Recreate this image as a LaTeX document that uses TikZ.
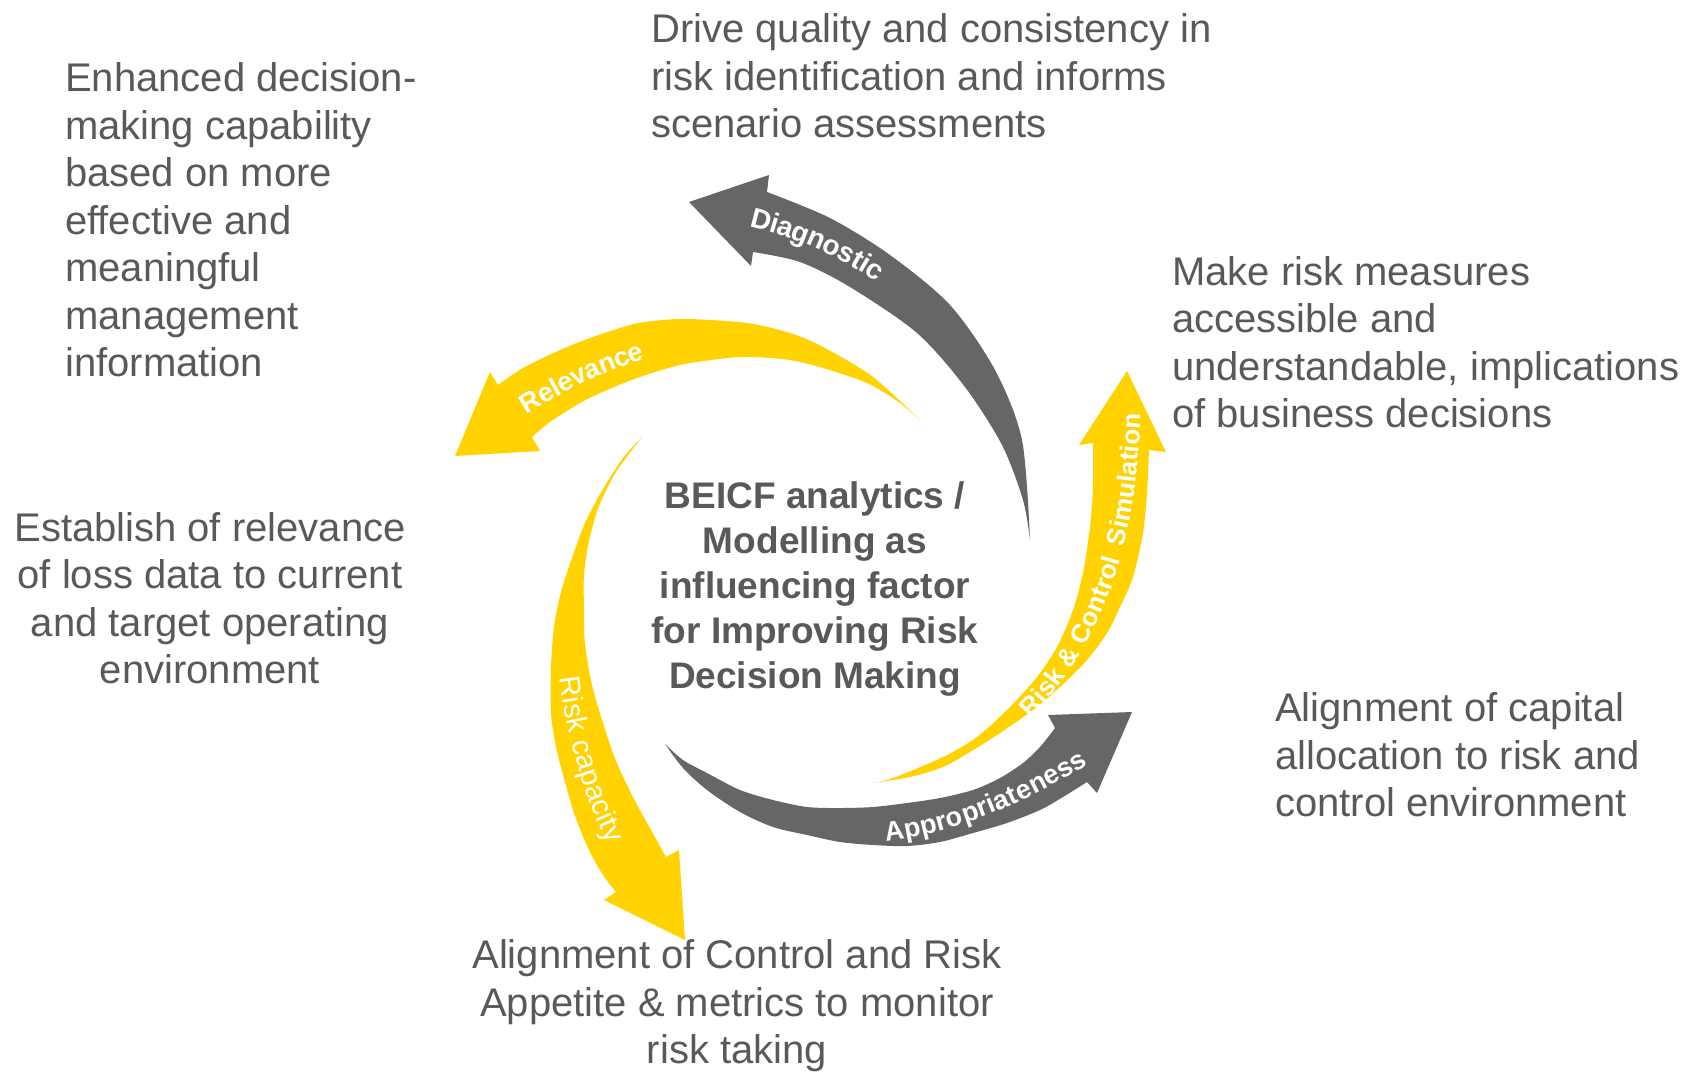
\documentclass[tikz,border=0pt]{standalone}
\usepackage{fontspec}
\setmainfont{Liberation Sans}
\usetikzlibrary{decorations.text}
\definecolor{txtgray}{RGB}{89,89,89}
\definecolor{arrgray}{RGB}{102,102,102}
\definecolor{ylw}{RGB}{255,210,0}
\tikzset{
  bodytext/.style={font=\fontsize{40}{47.5}\selectfont, text=txtgray, inner sep=0pt, align=left},
  centertext/.style={font=\fontsize{37}{45}\selectfont\bfseries, text=txtgray, inner sep=0pt, align=center},
  lbl/.style={decorate, decoration={text along path, text align=center, text color=white, raise=#1}},
}
\begin{document}
\begin{tikzpicture}[x=1pt,y=-1pt]
\useasboundingbox (0,0) rectangle (1692,1072);

% Diagnostic (gray)
\fill[arrgray] plot[smooth] coordinates {(1030,540) (1022,440) (995,370) (950,305) (890,255) (830,218) (767,192)} -- (769,175) -- (689,202) -- (751,266) -- (753,252) -- plot[smooth] coordinates {(753,252) (800,262) (850,287) (917,333) (965,387) (1002,445) (1023,500) (1030,540)} -- cycle;

% Relevance (yellow)
\fill[ylw] plot[smooth] coordinates {(922,422) (873,377) (823,347) (790,333) (747,323) (687,319) (653,321) (630,325) (590,338) (560,350) (523,368) (498,385)} -- (490,372) -- (455,456) -- (540,451) -- (532,437) -- plot[smooth] coordinates {(532,437) (550,422) (580,403) (607,390) (640,377) (680,365) (727,358) (753,357) (790,360) (823,368) (867,383) (900,403) (922,422)} -- cycle;

% Risk capacity (yellow)
\fill[ylw] plot[smooth] coordinates {(642,437) (623,458) (603,489) (585,523) (572,558) (561,592) (554,627) (551,668) (551,713) (556,747) (565,782) (575,816) (589,850) (603,875) (616,892)} -- (604,900) -- (685,940) -- (679,850) -- (666,857) -- plot[smooth] coordinates {(666,857) (651,830) (634,799) (616,761) (603,723) (592,685) (585,644) (584,609) (584,575) (589,541) (599,506) (616,472) (642,437)} -- cycle;

% Appropriateness (gray)
\fill[arrgray] plot[smooth] coordinates {(665,744) (683,760) (707,773) (740,790) (773,800) (807,807) (840,808) (873,807) (907,803) (940,798) (973,790) (1000,778) (1023,763) (1040,747) (1055,728)} -- (1048,715) -- (1132,712) -- (1097,793) -- (1087,782) -- plot[smooth] coordinates {(1087,782) (1063,797) (1040,810) (1007,823) (973,833) (940,842) (907,846) (873,845) (840,842) (807,835) (773,827) (740,812) (707,790) (683,768) (665,744)} -- cycle;

% Risk & Control Simulation (yellow)
\fill[ylw] plot[smooth] coordinates {(873,783) (910,777) (943,767) (970,752) (1000,733) (1033,710) (1060,687) (1087,660) (1107,633) (1120,607) (1133,577) (1143,533) (1147,493) (1149,450)} -- (1166,452) -- (1127,371) -- (1079,445) -- (1093,443) -- plot[smooth] coordinates {(1093,443) (1093,487) (1090,527) (1083,573) (1073,610) (1057,647) (1037,677) (1010,707) (977,737) (943,757) (893,778) (873,783)} -- cycle;

% arrow labels
\path[lbl=-10pt, decoration={text={|\fontsize{28}{28}\selectfont\bfseries|Diagnostic}}] (740,214) .. controls (790,224) and (842,245) .. (892,280);
\path[lbl=-9.5pt, decoration={text={|\fontsize{27}{27}\selectfont\bfseries|Relevance}}] (490,428) .. controls (545,390) and (610,352) .. (680,342);
\path[lbl=-10pt, decoration={text={|\fontsize{29}{29}\selectfont|Risk capacity}}] (566,625) .. controls (570,720) and (590,800) .. (642,885);
\path[lbl=-9.5pt, decoration={text={|\fontsize{27}{27}\selectfont\bfseries|Appropriateness}}] (865,834) .. controls (940,828) and (1010,803) .. (1100,746);
\path[lbl=-9pt, decoration={text={|\fontsize{26}{26}\selectfont\bfseries|Risk {\&} Control {\kern5pt}Simulation}}] (1003,732) .. controls (1085,660) and (1132,560) .. (1132,385);

% texts
\node[bodytext, anchor=west] (drive) at (651,76) {Drive quality and consistency in\\risk identification and informs\\scenario assessments};
\node[bodytext, anchor=west] (enh) at (65,220) {Enhanced decision-\\making capability\\based on more\\effective and\\meaningful\\management\\information};
\node[bodytext, anchor=west] (make) at (1172,342) {Make risk measures\\accessible and\\understandable, implications\\of business decisions};
\node[bodytext, align=center] (est) at (210,598) {Establish of relevance\\of loss data to current\\and target operating\\environment};
\node[bodytext, anchor=west] (capital) at (1275,755) {Alignment of capital\\allocation to risk and\\control environment};
\node[bodytext, align=center] (appetite) at (737,1006) {Alignment of Control and Risk\\Appetite \& metrics to monitor\\risk taking};
\node[centertext] (core) at (815,589) {BEICF analytics /\\Modelling as\\influencing factor\\for Improving Risk\\Decision Making};
\end{tikzpicture}
\end{document}
